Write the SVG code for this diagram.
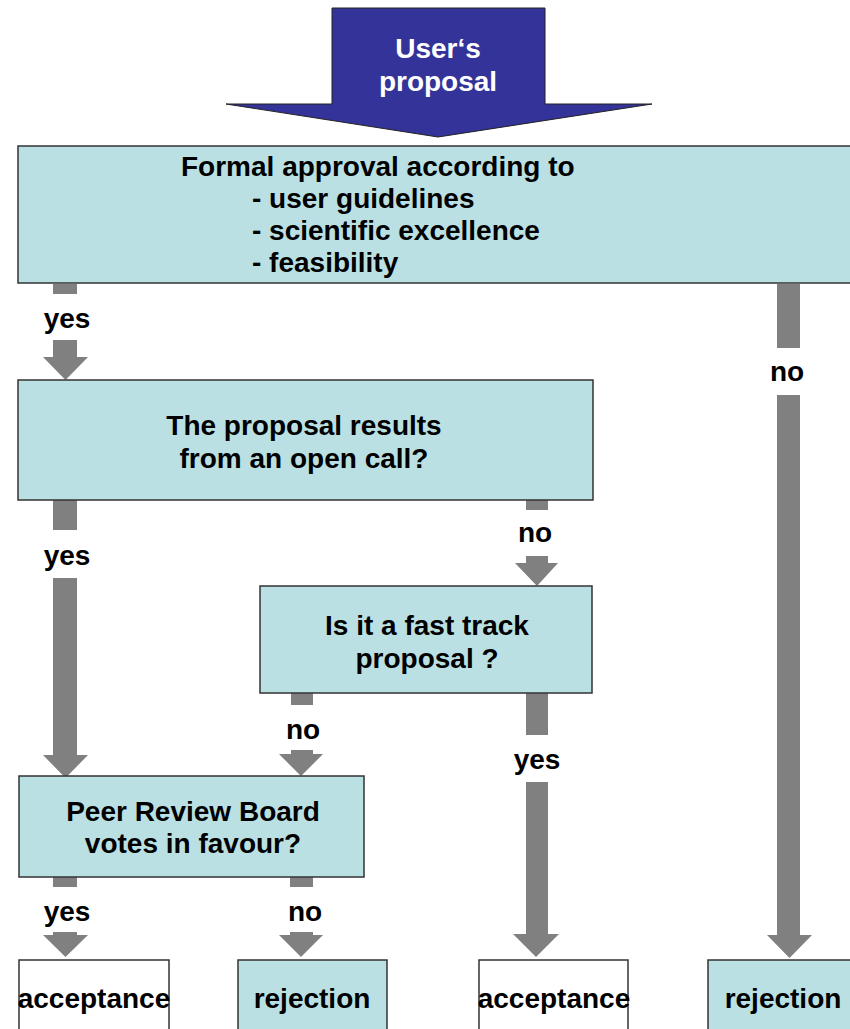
<svg xmlns="http://www.w3.org/2000/svg" width="850" height="1029" viewBox="0 0 850 1029">
<style>
.box{fill:#BAE0E3;stroke:#333;stroke-width:1.5}
.wbox{fill:#fff;stroke:#333;stroke-width:1.5}
.arr{fill:#808080}
text{font-family:"Liberation Sans",Arial,sans-serif;font-weight:bold;font-size:28px;fill:#000}
.c{text-anchor:middle}
.w{fill:#fff}
</style>
<rect width="850" height="1029" fill="#fff"/>
<g id="start">
<polygon points="332,8 545,8 545,104 652,104 438,137 226,104 332,104" fill="#333399" stroke="#222" stroke-width="1"/>
<text class="c w" x="438" y="58">User‘s</text>
<text class="c w" x="438" y="91">proposal</text>
</g>
<g id="connectors">
<rect class="arr" x="53" y="284" width="24" height="10"/>
<polygon class="arr" points="53,340 77,340 77,357 88,357 65.5,380 43,357 53,357"/>
<text class="c" x="67" y="328">yes</text>
<rect class="arr" x="777" y="284" width="23" height="64"/>
<polygon class="arr" points="777,395 800,395 800,935 812,935 789.5,958 767,935 777,935"/>
<text class="c" x="787" y="381">no</text>
<rect class="arr" x="53" y="500" width="24" height="30"/>
<polygon class="arr" points="53,578 77,578 77,755 88,755 65.5,778 43,755 53,755"/>
<text class="c" x="67" y="565">yes</text>
<rect class="arr" x="526" y="500" width="22" height="10"/>
<polygon class="arr" points="526,556 548,556 548,563 558,563 537,586 515,563 526,563"/>
<text class="c" x="535" y="542">no</text>
<rect class="arr" x="291" y="693" width="22" height="12"/>
<polygon class="arr" points="291,750 313,750 313,754 323,754 301,776 279,754 291,754"/>
<text class="c" x="303" y="739">no</text>
<rect class="arr" x="526" y="693" width="22" height="42"/>
<polygon class="arr" points="526,782 548,782 548,934 559,934 536,957 513,934 526,934"/>
<text class="c" x="537" y="769">yes</text>
<rect class="arr" x="53" y="877" width="24" height="10"/>
<polygon class="arr" points="53,932 77,932 77,935 88,935 65.5,957 43,935 53,935"/>
<text class="c" x="67" y="921">yes</text>
<rect class="arr" x="290" y="877" width="23" height="10"/>
<polygon class="arr" points="290,932 313,932 313,935 323,935 301,957 279,935 290,935"/>
<text class="c" x="305" y="921">no</text>
</g>
<g id="formal">
<rect class="box" x="18" y="146" width="845" height="137"/>
<text x="181" y="176">Formal approval according to</text>
<text x="252" y="208">- user guidelines</text>
<text x="252" y="240">- scientific excellence</text>
<text x="252" y="272">- feasibility</text>
</g>
<g id="opencall">
<rect class="box" x="18" y="380" width="575" height="120"/>
<text class="c" x="304" y="435">The proposal results</text>
<text class="c" x="304" y="468">from an open call?</text>
</g>
<g id="fasttrack">
<rect class="box" x="260" y="586" width="332" height="107"/>
<text class="c" x="427" y="635">Is it a fast track</text>
<text class="c" x="427" y="668">proposal ?</text>
</g>
<g id="peer">
<rect class="box" x="19" y="776" width="345" height="101"/>
<text class="c" x="193" y="821">Peer Review Board</text>
<text class="c" x="193" y="853">votes in favour?</text>
</g>
<g id="accept1">
<rect class="wbox" x="19" y="960" width="150" height="80"/>
<text class="c" x="94" y="1008">acceptance</text>
</g>
<g id="reject1">
<rect class="box" x="238" y="960" width="149" height="80"/>
<text class="c" x="312" y="1008">rejection</text>
</g>
<g id="accept2">
<rect class="wbox" x="479" y="960" width="149" height="80"/>
<text class="c" x="554" y="1008">acceptance</text>
</g>
<g id="reject2">
<rect class="box" x="708" y="960" width="160" height="80"/>
<text class="c" x="783" y="1008">rejection</text>
</g>
</svg>
